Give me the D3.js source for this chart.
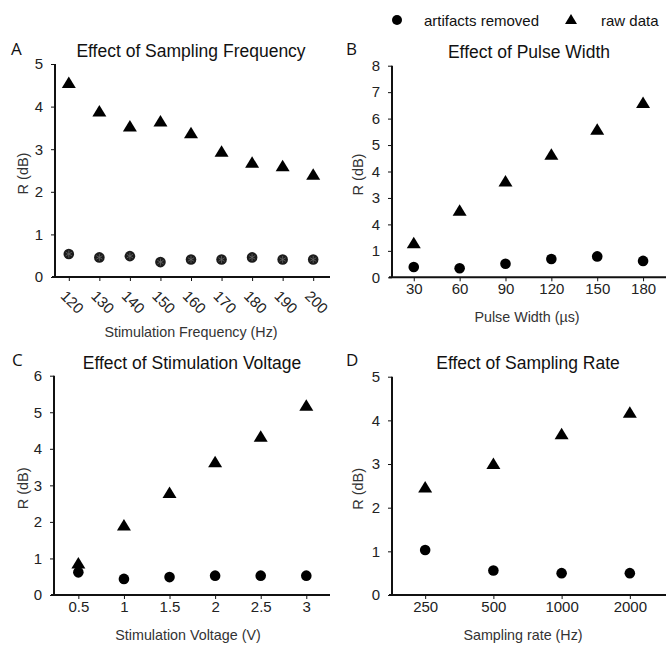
<!DOCTYPE html>
<html><head><meta charset="utf-8">
<script src="https://cdn.jsdelivr.net/npm/d3@7"></script>
<style>
body{margin:0;background:#fff;}
text{font-family:"Liberation Sans",Arial,sans-serif;}
</style></head>
<body><svg id="c" width="666" height="645"></svg>
<script>
// ---- data ----
const freqX = [120,130,140,150,160,170,180,190,200];
const freqRaw = [4.57,3.90,3.55,3.67,3.39,2.96,2.70,2.62,2.42];
const freqRemoved = [0.54,0.46,0.49,0.35,0.41,0.41,0.46,0.41,0.41];
const freqYTicks = [0,1,2,3,4,5];
const freqYLabels = ["0","1","2","3","4","5"];

const pwX = [30,60,90,120,150,180];
const pwRaw = [1.32,2.54,3.65,4.66,5.61,6.62];
const pwRemoved = [0.39,0.34,0.51,0.69,0.79,0.62];
const pwYTicks = [0,1,2,3,4,5,6,7,8];
const pwYLabels = ["0","1","4","3","4","5","6","7","8"];

const voltX = [0.5,1,1.5,2,2.5,3];
const voltXLabels = ["0.5","1","1.5","2","2.5","3"];
const voltRaw = [0.88,1.92,2.81,3.65,4.35,5.20];
const voltRemoved = [0.62,0.44,0.49,0.53,0.53,0.53];
const voltYTicks = [0,1,2,3,4,5,6];
const voltYLabels = ["0","1","2","3","4","5","6"];

const rateX = ["250","500","1000","2000"];
const rateRaw = [2.48,3.02,3.70,4.19];
const rateRemoved = [1.03,0.56,0.50,0.50];
const rateYTicks = [0,1,2,3,4,5];
const rateYLabels = ["0","1","2","3","4","5"];

const legendLabels = ["artifacts removed","raw data"];

// ---- drawing ----
const svg = d3.select("#c");
function triPath(w,h){ return `M0,${-h/2}L${w/2},${h/2}L${-w/2},${h/2}Z`; }
const tri = triPath(14,11.5);
const circR = 5.3;

function panel(o){
  const g = svg.append("g");
  const y = d3.scaleLinear().domain(o.yDomain).range([o.y0, o.yTop]);
  // x axis
  const xa = g.append("g").attr("transform",`translate(0,${o.y0})`)
    .call(d3.axisBottom(o.x).tickValues(o.xTicks).tickFormat((d,i)=>o.xLabels[i]).tickSize(4).tickSizeOuter(0));
  xa.select(".domain").remove();
  xa.selectAll(".tick line").attr("stroke","#111").attr("stroke-width",1);
  xa.selectAll(".tick text").attr("font-size",15).attr("fill","#222");
  if(o.rotate){
    xa.selectAll(".tick text").attr("text-anchor","middle").attr("dy",null)
      .attr("transform","translate(2,26) rotate(45)").attr("y",0).attr("dominant-baseline","middle");
  } else {
    xa.selectAll(".tick text").attr("y",6);
  }
  g.append("line").attr("x1",o.xAxisStart).attr("x2",o.xAxisEnd).attr("y1",o.y0).attr("y2",o.y0)
    .attr("stroke","#111").attr("stroke-width",2);
  // y axis
  const ya = g.append("g").attr("transform",`translate(${o.yAxisX},0)`)
    .call(d3.axisLeft(y).tickValues(o.yTicks).tickFormat((d,i)=>o.yLabels[i]).tickSize(4).tickSizeOuter(0).tickPadding(8));
  ya.select(".domain").remove();
  ya.selectAll(".tick line").attr("stroke","#111").attr("stroke-width",1);
  ya.selectAll(".tick text").attr("font-size",15).attr("fill","#222");
  g.append("line").attr("x1",o.yAxisX).attr("x2",o.yAxisX).attr("y1",o.y0).attr("y2",y(o.yDomain[1]))
    .attr("stroke","#111").attr("stroke-width",2);
  // labels
  g.append("text").attr("x",o.titleX).attr("y",o.titleY).attr("text-anchor","middle")
    .attr("font-size",17.5).attr("fill","#111").text(o.title);
  g.append("text").attr("x",o.letterX).attr("y",o.letterY).attr("font-size",17)
    .style("font-family","'Open Sans', 'Liberation Sans', sans-serif").attr("fill","#111").text(o.letter);
  g.append("text").attr("x",o.xLabX).attr("y",o.xLabY).attr("text-anchor","middle")
    .attr("font-size",14.3).attr("fill","#333").text(o.xLabel);
  g.append("text").attr("transform",`translate(${o.yLabX},${(o.y0+y(o.yDomain[1]))/2+3}) rotate(-90)`)
    .attr("text-anchor","middle").attr("font-size",14.5).attr("fill","#333").text("R (dB)");
  // marks
  g.selectAll(".raw").data(o.xs).enter().append("path")
    .attr("d",tri).attr("fill","#000")
    .attr("transform",(d,i)=>`translate(${o.x(d)},${y(o.raw[i])})`);
  g.selectAll(".rem").data(o.xs).enter().append("circle")
    .attr("cx",d=>o.x(d)).attr("cy",(d,i)=>y(o.removed[i])).attr("r",circR)
    .attr("fill",o.star?"#1c1c1c":"#000");
  if(o.star){
    g.selectAll(".star").data(o.xs).enter().append("path")
      .attr("d",d3.symbol().type(d3.symbolAsterisk).size(36))
      .attr("fill","none").attr("stroke","#666").attr("stroke-width",0.8)
      .attr("transform",(d,i)=>`translate(${o.x(d)},${y(o.removed[i])})`);
  }
}

// Panel A
panel({
  x: d3.scaleLinear().domain([114.5,205.5]).range([52,330]),
  xs: freqX, xTicks: freqX, xLabels: freqX.map(String), rotate: true,
  raw: freqRaw, removed: freqRemoved, star: true,
  yDomain:[0,5], yTicks:freqYTicks, yLabels:freqYLabels, y0:277, yTop:64,
  yAxisX:55, xAxisStart:52, xAxisEnd:330,
  title:"Effect of Sampling Frequency", titleX:191, titleY:57,
  letter:"A", letterX:11, letterY:55,
  xLabel:"Stimulation Frequency (Hz)", xLabX:191, xLabY:337, yLabX:28
});
// Panel B
panel({
  x: d3.scaleLinear().domain([13.8,195]).range([389,666]),
  xs: pwX, xTicks: pwX, xLabels: pwX.map(String),
  raw: pwRaw, removed: pwRemoved,
  yDomain:[0,8], yTicks:pwYTicks, yLabels:pwYLabels, y0:277.3, yTop:65.7,
  yAxisX:392, xAxisStart:389, xAxisEnd:666,
  title:"Effect of Pulse Width", titleX:529, titleY:58,
  letter:"B", letterX:346, letterY:55,
  xLabel:"Pulse Width (µs)", xLabX:527, xLabY:322, yLabX:363
});
// Panel C
panel({
  x: d3.scaleLinear().domain([0.2,3.26]).range([51,330]),
  xs: voltX, xTicks: voltX, xLabels: voltXLabels,
  raw: voltRaw, removed: voltRemoved,
  yDomain:[0,6], yTicks:voltYTicks, yLabels:voltYLabels, y0:595, yTop:375.7,
  yAxisX:54, xAxisStart:51, xAxisEnd:330,
  title:"Effect of Stimulation Voltage", titleX:192, titleY:369,
  letter:"C", letterX:12, letterY:366,
  xLabel:"Stimulation Voltage (V)", xLabX:188, xLabY:640, yLabX:28
});
// Panel D
panel({
  x: d3.scalePoint().domain(rateX).range([389,666]).padding(0.53),
  xs: rateX, xTicks: rateX, xLabels: rateX,
  raw: rateRaw, removed: rateRemoved,
  yDomain:[0,5], yTicks:rateYTicks, yLabels:rateYLabels, y0:595, yTop:376.7,
  yAxisX:392, xAxisStart:389, xAxisEnd:666,
  title:"Effect of Sampling Rate", titleX:528, titleY:369,
  letter:"D", letterX:346, letterY:366,
  xLabel:"Sampling rate (Hz)", xLabX:523, xLabY:640, yLabX:363
});

// Legend
const lg = svg.append("g");
lg.append("circle").attr("cx",397).attr("cy",20).attr("r",5).attr("fill","#000");
lg.append("text").attr("x",424).attr("y",25.5).attr("font-size",15).attr("fill","#111").text(legendLabels[0]);
lg.append("path").attr("d",triPath(12,10)).attr("fill","#000").attr("transform","translate(571,19)");
lg.append("text").attr("x",601).attr("y",25.5).attr("font-size",15).attr("fill","#111").text(legendLabels[1]);
</script></body></html>
